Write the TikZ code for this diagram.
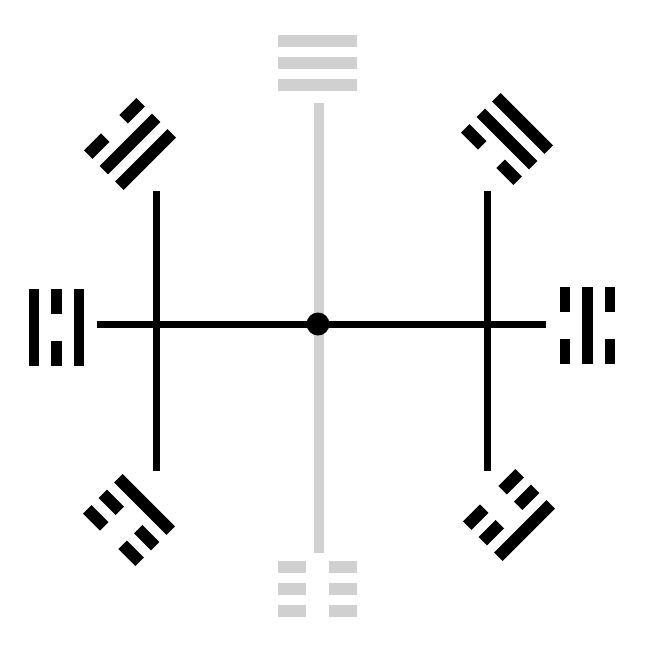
\documentclass[tikz,border=0pt]{standalone}
\definecolor{faint}{RGB}{208,208,208}
\def\barlen{79}\def\barthk{12}\def\bargap{23}\def\barsep{22}
\newcommand{\yaoline}[2]{%
  \ifnum#1=1
    \fill (-\barlen/2,#2-\barthk/2) rectangle (\barlen/2,#2+\barthk/2);
  \else
    \fill (-\barlen/2,#2-\barthk/2) rectangle (-\bargap/2,#2+\barthk/2);
    \fill (\bargap/2,#2-\barthk/2) rectangle (\barlen/2,#2+\barthk/2);
  \fi}
% x, y, angle, near, middle, far (1 = solid, 0 = broken)
\newcommand{\trigram}[6]{%
  \begin{scope}[shift={(#1,#2)},rotate=#3]
    \yaoline{#4}{\barsep}
    \yaoline{#5}{0}
    \yaoline{#6}{-\barsep}
  \end{scope}}
\tikzset{
  greyaxis/.style={draw=faint, line width=10pt},
  blackaxis/.style={draw=black, line width=7pt},
  hubdot/.style={circle, fill=black, minimum size=23pt, inner sep=0pt}
}
\begin{document}
\begin{tikzpicture}[x=1pt,y=-1pt]
\fill[white] (0,0) rectangle (649,649);
\useasboundingbox (0,0) rectangle (649,649);
% coordinates
\coordinate (gtop) at (319,103);
\coordinate (gbot) at (319,553);
\coordinate (hl) at (97,324);
\coordinate (hr) at (546,324);
\coordinate (lt) at (156,191);
\coordinate (lb) at (156,471);
\coordinate (rt) at (487,191);
\coordinate (rb) at (487,471);
% lines
\draw[greyaxis] (gtop) -- (gbot);
\draw[blackaxis] (hl) -- (hr);
\draw[blackaxis] (lt) -- (lb);
\draw[blackaxis] (rt) -- (rb);
\node[hubdot] (hub) at (318,324) {};
% grey trigrams
\begin{scope}[fill=faint]
  \def\barlen{79}\def\barthk{12}\def\bargap{23}\def\barsep{22}
  \trigram{317.5}{62.5}{0}{1}{1}{1}
  \trigram{317.5}{589}{180}{0}{0}{0}
\end{scope}
% side trigrams
\begin{scope}[fill=black]
  \def\barlen{77}\def\barthk{10.5}\def\bargap{27}\def\barsep{22.5}
  \trigram{56.5}{327.5}{90}{1}{0}{1}
  \trigram{587.5}{325}{-90}{0}{1}{0}
  \def\barlen{74}\def\barthk{12}\def\bargap{26}\def\barsep{22}
  \trigram{130}{144}{45}{1}{1}{0}
  \trigram{507}{139}{-45}{0}{1}{1}
  \trigram{129}{520}{135}{1}{0}{0}
  \trigram{509}{515}{-135}{0}{0}{1}
\end{scope}
\end{tikzpicture}
\end{document}
